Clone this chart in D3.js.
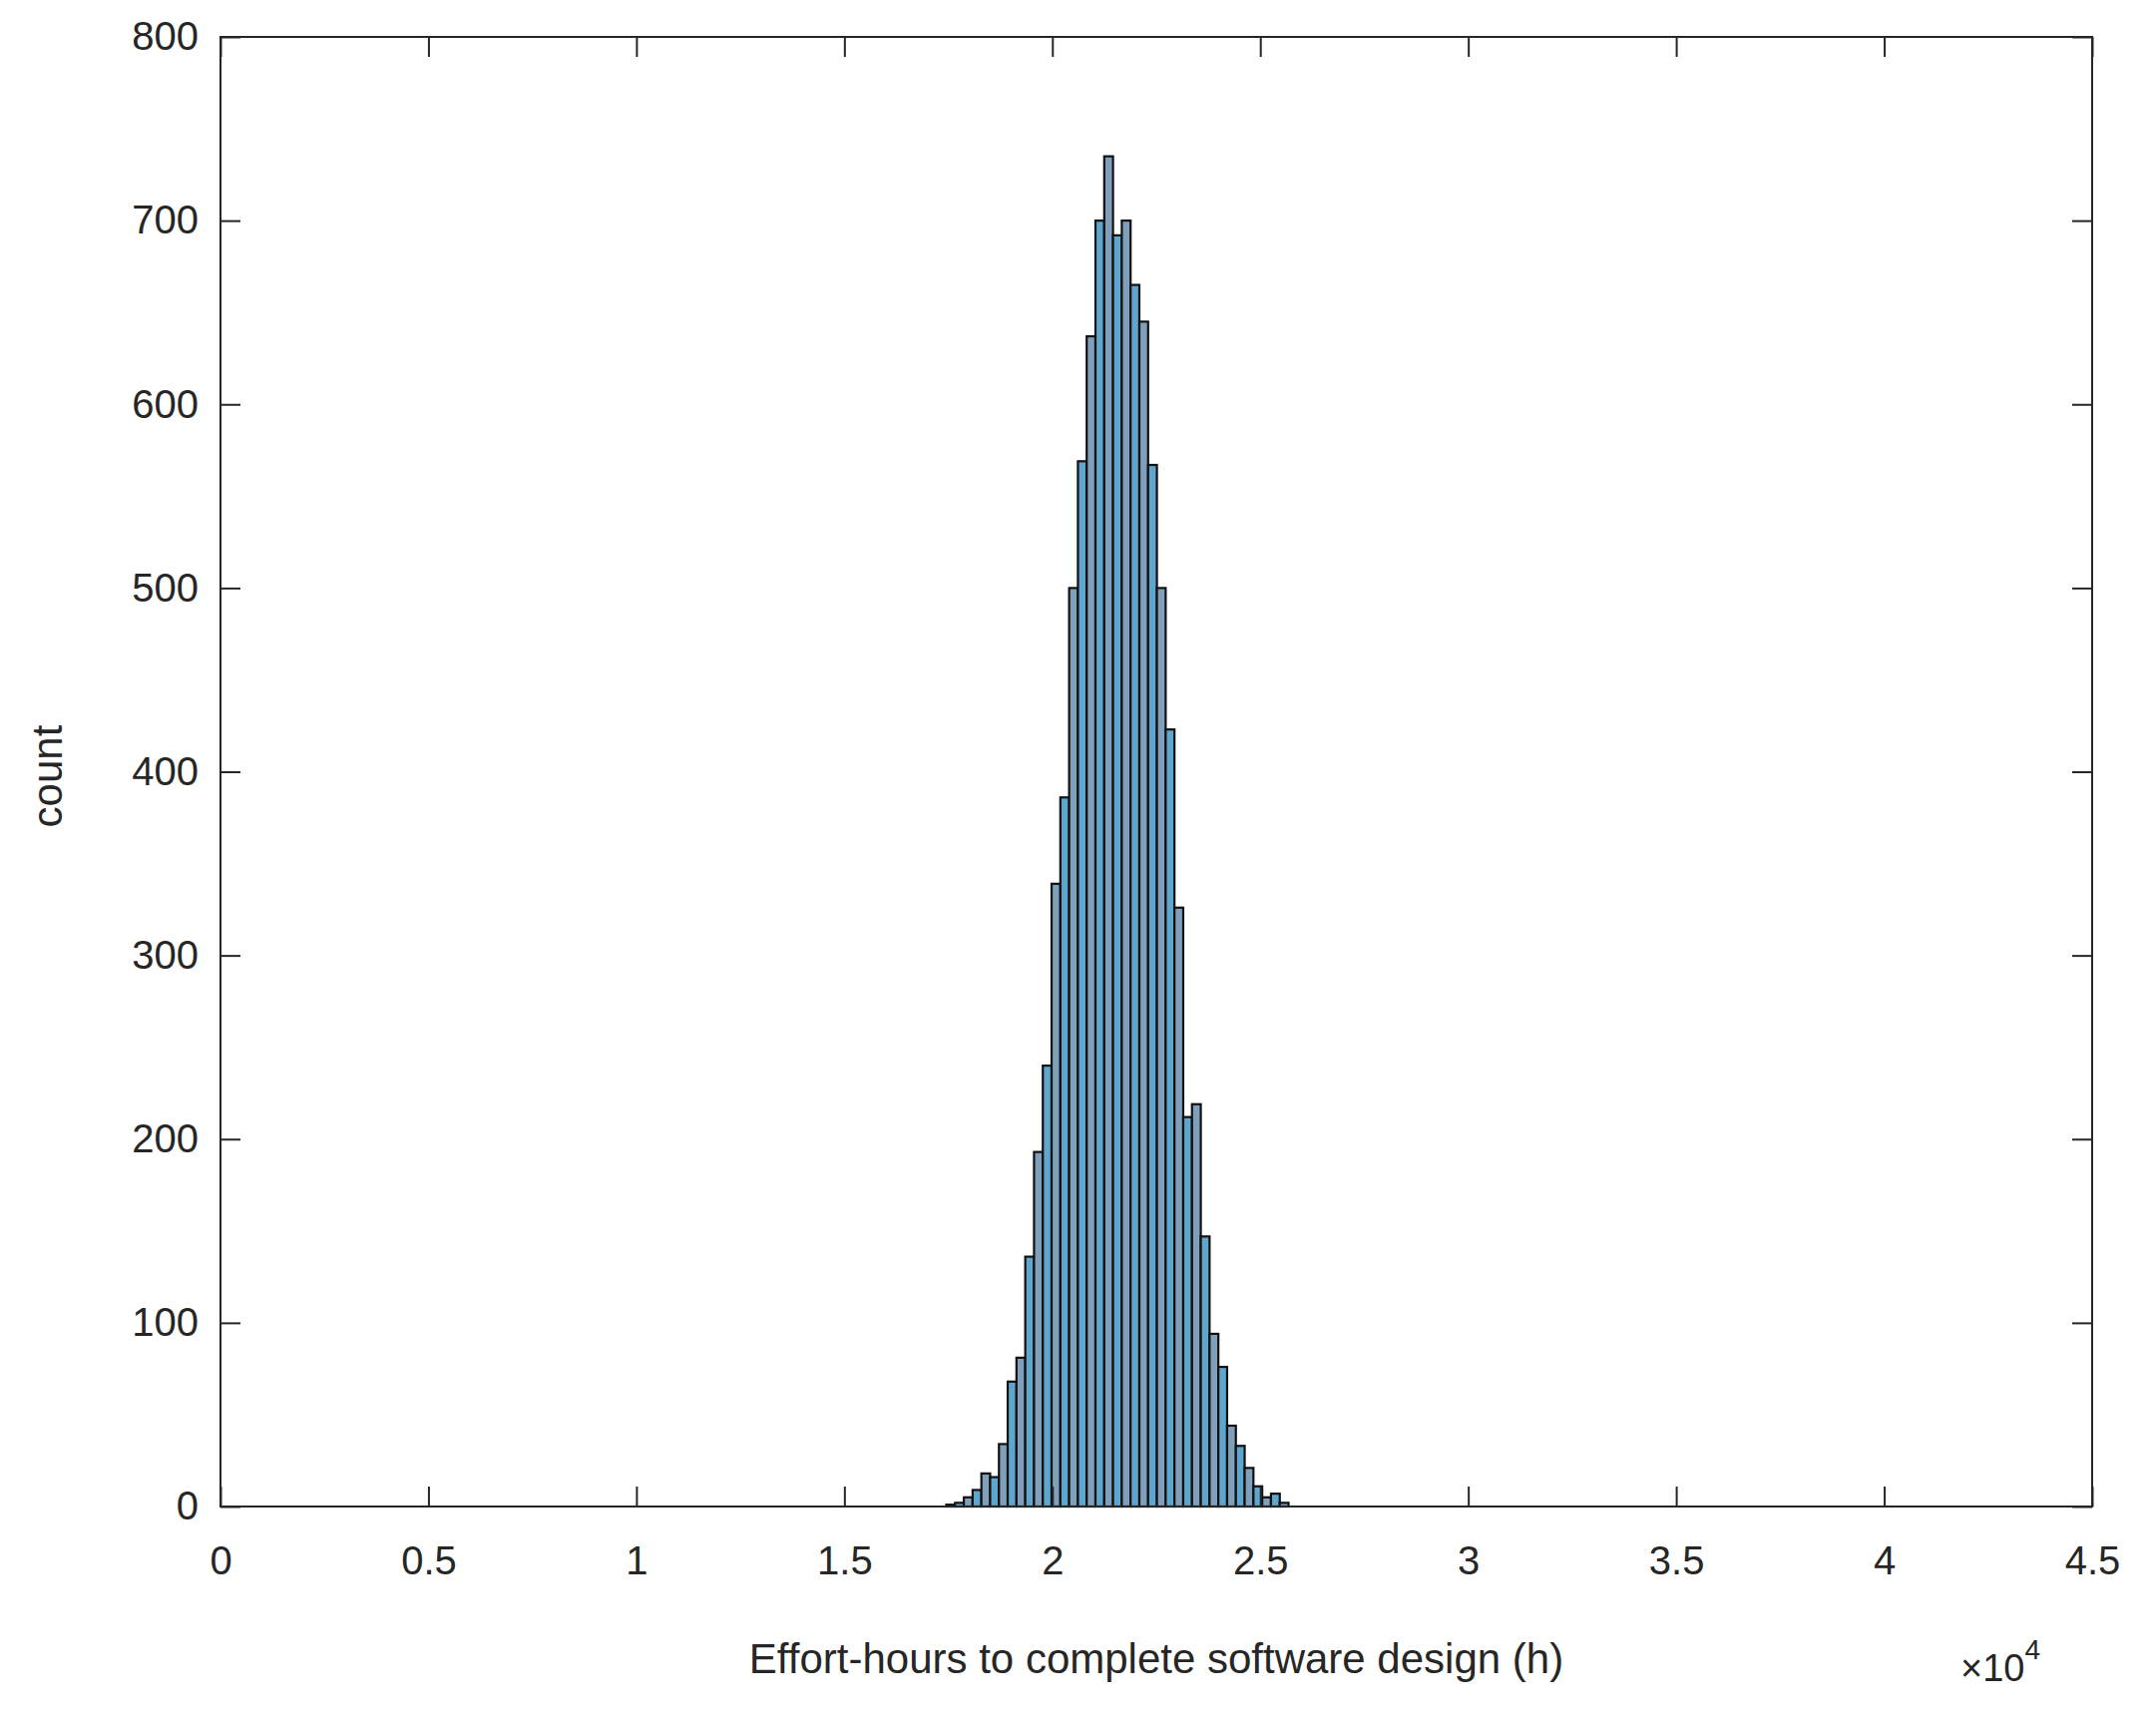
<!DOCTYPE html>
<html><head><meta charset="utf-8">
<script src="https://cdn.jsdelivr.net/npm/d3@7"></script>
<style>body{margin:0;background:#fff}text{font-family:"Liberation Sans",Arial,sans-serif;fill:#262626}</style>
</head><body><svg id="c" width="2161" height="1731"></svg>
<script>
const binStart = 17450;
const binWidth = 211;
const counts = [1,2,5,9,18,16,34,68,81,136,193,240,339,386,500,569,637,700,735,692,700,665,645,567,500,423,326,212,219,147,94,76,44,33,21,11,5,7,2];
const xTicks = [0,0.5,1,1.5,2,2.5,3,3.5,4,4.5];
const yTicks = [0,100,200,300,400,500,600,700,800];

const svg = d3.select("#c");
const L=221,R=2097,T=37,B=1510;
const x = d3.scaleLinear().domain([0,45000]).range([L,R]);
const y = d3.scaleLinear().domain([0,800]).range([B,T]);
const data = counts.map((c,i)=>({x0:binStart+i*binWidth,x1:binStart+(i+1)*binWidth,c}));

svg.append("g").selectAll("rect").data(data).join("rect")
  .attr("x",d=>x(d.x0)).attr("width",d=>x(d.x1)-x(d.x0))
  .attr("y",d=>y(d.c)).attr("height",d=>y(0)-y(d.c))
  .attr("fill",(d,i)=>i%2?"#5fa6cf":"#7f9fba").attr("stroke","#111").attr("stroke-width",2.2);

const fs=40;
const xa = svg.append("g").attr("transform",`translate(0,${B})`)
  .call(d3.axisBottom(x).tickValues(xTicks.map(v=>v*1e4)).tickFormat((d,i)=>xTicks[i]).tickSizeInner(-20).tickSizeOuter(0).tickPadding(40));
const ya = svg.append("g").attr("transform",`translate(${L},0)`)
  .call(d3.axisLeft(y).tickValues(yTicks).tickSizeInner(-20).tickSizeOuter(0).tickPadding(22));
svg.append("g").attr("transform",`translate(0,${T})`)
  .call(d3.axisTop(x).tickValues(xTicks.map(v=>v*1e4)).tickFormat("").tickSizeInner(-20).tickSizeOuter(0));
svg.append("g").attr("transform",`translate(${R},0)`)
  .call(d3.axisRight(y).tickValues(yTicks).tickFormat("").tickSizeInner(-20).tickSizeOuter(0));
svg.selectAll(".domain").remove();
svg.selectAll(".tick line").attr("stroke","#262626").attr("stroke-width",2);
svg.selectAll(".tick text").attr("font-size",fs).style("fill","#262626");
svg.append("rect").attr("x",L).attr("y",T).attr("width",R-L).attr("height",B-T)
  .attr("fill","none").attr("stroke","#262626").attr("stroke-width",2);

svg.append("text").attr("x",(L+R)/2).attr("y",1677).attr("text-anchor","middle").attr("font-size",42)
  .text("Effort-hours to complete software design (h)");
const m = svg.append("text").attr("x",1965).attr("y",1685).attr("font-size",38);
m.append("tspan").text("×10");
m.append("tspan").attr("dy",-22).attr("font-size",28).text("4");
svg.append("text").attr("transform","translate(62,778) rotate(-90)").attr("text-anchor","middle").attr("font-size",42).text("count");
</script></body></html>
